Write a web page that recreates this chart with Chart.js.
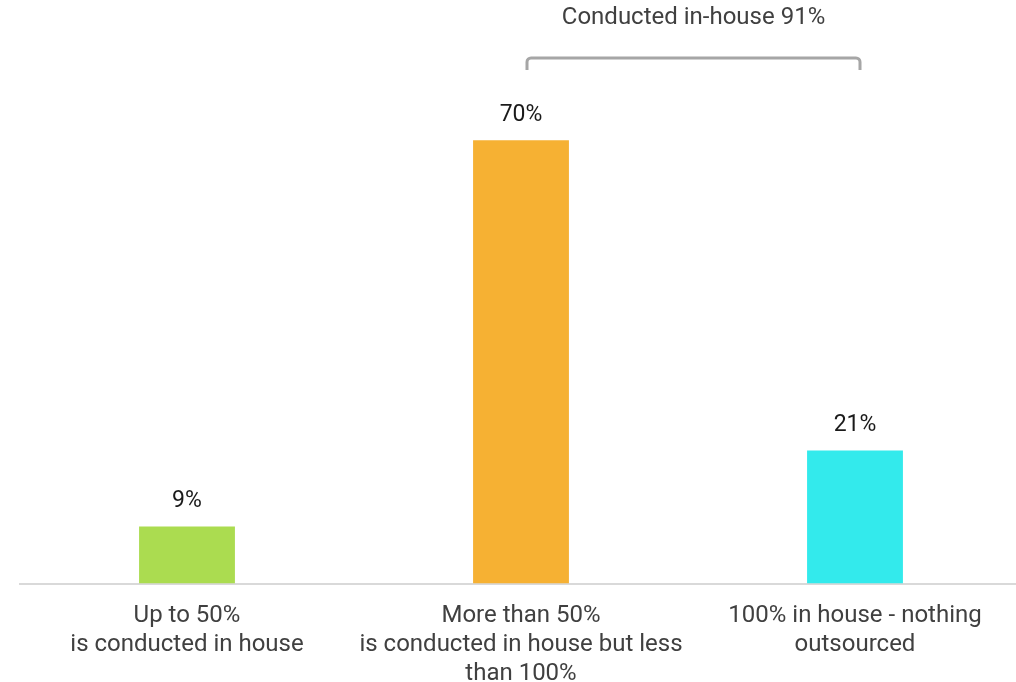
<!DOCTYPE html>
<html>
<head>
<meta charset="utf-8">
<script src="https://cdn.jsdelivr.net/npm/chart.js@4.4.1/dist/chart.umd.min.js"></script>
<style>
  html, body { margin: 0; padding: 0; background: #fff; overflow: hidden; }
  #wrap { position: relative; width: 1024px; height: 708px; }
</style>
</head>
<body>
<div id="wrap"><canvas id="inhouseChart"></canvas></div>
<script>
// share of work done in-house
const categories = [
  ['Up to 50%', 'is conducted in house'],
  ['More than 50%', 'is conducted in house but less', 'than 100%'],
  ['100% in house - nothing', 'outsourced']
];
const shares = [9, 70, 21];
const barColors = ['#abdc50', '#f6b133', '#33eaec'];
const bracketLabel = 'Conducted in-house';

const FONT = 'Roboto, "Noto Sans", sans-serif';

// value labels above each bar
const valueLabels = {
  id: 'valueLabels',
  afterDatasetsDraw(chart) {
    const ctx = chart.ctx;
    const meta = chart.getDatasetMeta(0);
    ctx.save();
    ctx.font = '23px ' + FONT;
    ctx.fillStyle = '#1a1a1a';
    ctx.textAlign = 'center';
    ctx.textBaseline = 'middle';
    meta.data.forEach((bar, i) => {
      ctx.fillText(shares[i] + '%', bar.x, bar.y - 25);
    });
    ctx.restore();
  }
};

// bracket grouping the two in-house bars, with their summed share
const bracket = {
  id: 'bracket',
  afterDraw(chart) {
    const ctx = chart.ctx;
    const x = chart.scales.x;
    const left = x.getPixelForValue(1) + 6;
    const right = x.getPixelForValue(2) + 5;
    const y = 58, drop = 12, r = 4;
    ctx.save();
    ctx.strokeStyle = '#a6a6a6';
    ctx.lineWidth = 3;
    ctx.lineJoin = 'round';
    ctx.beginPath();
    ctx.moveTo(left, y + drop);
    ctx.arcTo(left, y, left + r, y, r);
    ctx.lineTo(right - r, y);
    ctx.arcTo(right, y, right, y + drop, r);
    ctx.lineTo(right, y + drop);
    ctx.stroke();

    ctx.font = '24px ' + FONT;
    ctx.fillStyle = '#404040';
    ctx.textAlign = 'center';
    ctx.textBaseline = 'middle';
    ctx.fillText(bracketLabel + ' ' + (shares[1] + shares[2]) + '%', (left + right) / 2, 18);
    ctx.restore();
  }
};

const ctx = document.getElementById('inhouseChart').getContext('2d');
const inhouseChart = new Chart(ctx, {
  type: 'bar',
  data: {
    labels: categories,
    datasets: [{
      data: shares,
      backgroundColor: barColors,
      barPercentage: 0.287,
      categoryPercentage: 1
    }]
  },
  options: {
    responsive: true,
    maintainAspectRatio: false,
    animation: false,
    layout: { padding: { left: 20, right: 2, top: 77, bottom: 2 } },
    plugins: {
      legend: { display: false },
      tooltip: { enabled: false }
    },
    scales: {
      x: {
        grid: { display: false, drawTicks: false },
        border: { display: true, color: '#d9d9d9', width: 2 },
        ticks: {
          color: '#404040',
          padding: 18,
          maxRotation: 0,
          autoSkip: false,
          font: { family: FONT, size: 24, lineHeight: 1.2 }
        }
      },
      y: {
        display: false,
        min: 0,
        max: 80
      }
    }
  },
  plugins: [valueLabels, bracket]
});
</script>
</body>
</html>
